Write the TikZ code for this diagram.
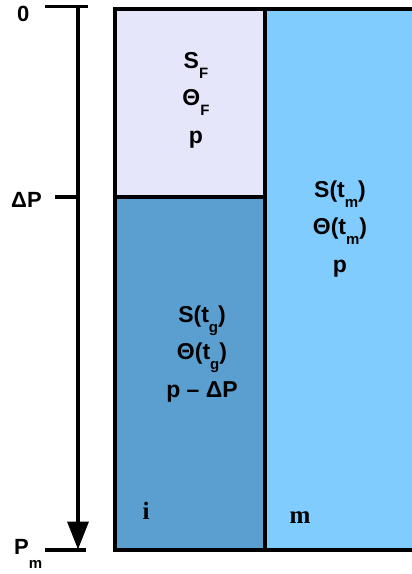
\documentclass[tikz,border=0pt]{standalone}
\usepackage{fontspec}
\setmainfont{Liberation Sans}
\newfontfamily\timesbf{Liberation Serif}
\usetikzlibrary{arrows.meta, positioning}

\definecolor{filmcol}{HTML}{E6E6FA}
\definecolor{graincol}{HTML}{5A9FD0}
\definecolor{matrixcol}{HTML}{80CCFF}

% lowered small subscript as in the drawing
\newcommand{\lowsub}[2][-10pt]{\raisebox{#1}{\fontsize{15}{15}\selectfont #2}}

\begin{document}
\begin{tikzpicture}[
    x=1pt, y=-1pt,
    wall/.style={draw=black, line width=4pt},
    lbl/.style={font=\fontsize{23}{37.5}\selectfont\bfseries, align=center, inner sep=0pt},
    tag/.style={font=\fontsize{22}{22}\selectfont\bfseries, inner sep=0pt, anchor=base west},
    phase/.style={font=\fontsize{25}{25}\selectfont\timesbf\bfseries, inner sep=0pt, anchor=base},
    axis/.style={line width=3.5pt, -{Triangle[length=28pt, width=21pt]}},
]
    \useasboundingbox (0,0) rectangle (412,574);

    % Regions
    \fill[filmcol] (115,8.5) rectangle (265,197);
    \fill[graincol] (115,197) rectangle (265,549.5);
    \fill[matrixcol] (265,8.5) rectangle (412,549.5);
    \draw[wall] (115,8.5) rectangle (265,549.5);
    \draw[wall] (115,197) -- (265,197);
    \draw[wall] (265,8.5) -- (412,8.5);
    \draw[wall] (265,549.5) -- (412,549.5);

    % Nodes
    \node[lbl] (film) at (196,100) {S\lowsub{F}\\Θ\lowsub{F}\\p};
    \node[lbl] (grain) at (202,354) {S(t\lowsub{g})\\Θ(t\lowsub{g})\\p – ΔP};
    \node[lbl] (matrix) at (340,229) {S(t\lowsub{m})\\Θ(t\lowsub{m})\\p};
    \node[phase] (i) at (146,519) {i};
    \node[phase] (m) at (300,523) {m};

    \node[tag] (zero) at (17,21) {0};
    \node[tag] (dp) at (11,207) {ΔP};
    \node[tag] (pm) at (14,554) {P\lowsub[-14pt]{m}};

    % Axis
    \coordinate (top) at (78,6.5);
    \coordinate (bot) at (78,549.5);
    \coordinate (tickL) at (45,6.5);
    \coordinate (tickR) at (88,6.5);
    \coordinate (midL) at (55,197);
    \coordinate (midR) at (78,197);
    \coordinate (botL) at (45,550);
    \coordinate (botR) at (86,550);

    \draw[line width=3.5pt] (tickL) -- (tickR);
    \draw[line width=3.5pt] (midL) -- (midR);
    \draw[line width=3.5pt] (botL) -- (botR);
    \draw[axis] (top) -- (bot);
\end{tikzpicture}
\end{document}
